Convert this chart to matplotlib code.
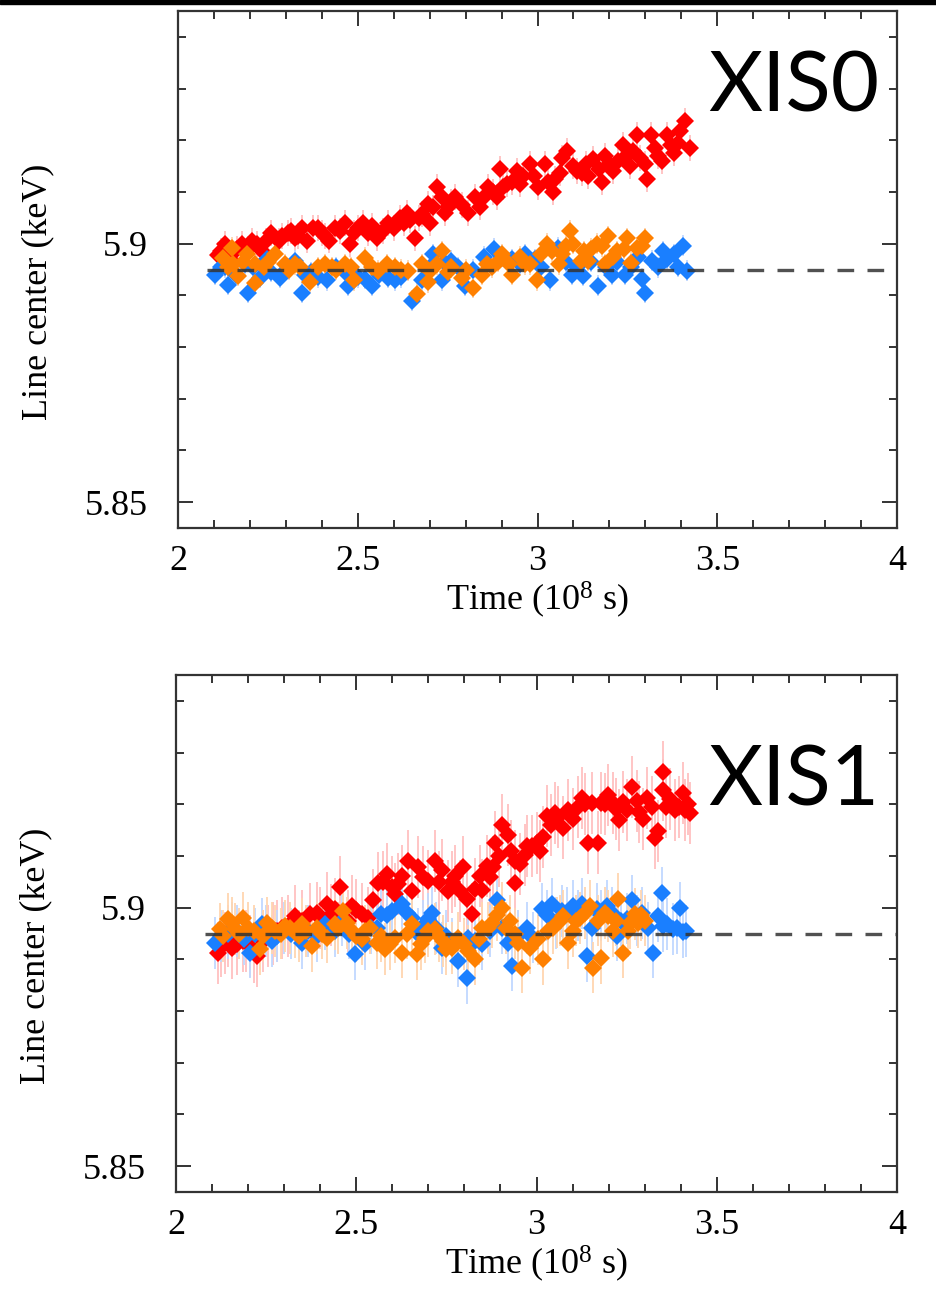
import matplotlib
matplotlib.use("Agg")
import matplotlib.pyplot as plt
from matplotlib.ticker import MultipleLocator, FormatStrFormatter
from matplotlib.patches import Rectangle

plt.rcParams['font.family'] = ['Liberation Serif', 'DejaVu Serif']
plt.rcParams['mathtext.fontset'] = 'custom'
plt.rcParams['mathtext.rm'] = 'Liberation Serif'
plt.rcParams['mathtext.default'] = 'regular'

# ---------------- XIS0 (top) ----------------
xis0_red_t = [2.11, 2.13, 2.145, 2.178, 2.195, 2.22, 2.234, 2.26, 2.28, 2.306, 2.325, 2.345,
              2.36, 2.376, 2.40, 2.42, 2.437, 2.465, 2.478, 2.49, 2.515, 2.528, 2.553, 2.585,
              2.60, 2.617, 2.636, 2.66, 2.68, 2.695, 2.70, 2.72, 2.734, 2.743, 2.75, 2.77,
              2.807, 2.826, 2.84, 2.862, 2.887, 2.896, 2.915, 2.943, 2.96, 2.98, 3.00, 3.02,
              3.043, 3.063, 3.068, 3.082, 3.10, 3.124, 3.14, 3.154, 3.18, 3.188, 3.21, 3.238,
              3.257, 3.277, 3.299, 3.304, 3.315, 3.327, 3.346, 3.36, 3.38, 3.396, 3.41, 3.424,
              2.12, 2.165, 2.205, 2.245, 2.29, 2.315, 2.335, 2.39, 2.41, 2.45, 2.50, 2.54,
              2.57, 2.63, 2.645, 2.67, 2.71, 2.76, 2.79, 2.85, 2.875, 2.905, 2.93, 2.95,
              2.99, 3.03, 3.05, 3.11, 3.135, 3.17, 3.20, 3.225, 3.245, 3.265, 3.285, 3.335,
              3.37, 3.39]
xis0_red_v = [5.8979, 5.9000, 5.8970, 5.9000, 5.8990, 5.9000, 5.8986, 5.9020, 5.9006, 5.9020, 5.9010, 5.9030,
              5.9006, 5.9030, 5.9020, 5.9006, 5.9030, 5.9040, 5.9000, 5.9020, 5.9040, 5.9020, 5.9010, 5.9040,
              5.9030, 5.9050, 5.9060, 5.9010, 5.9058, 5.9077, 5.9040, 5.9110, 5.9090, 5.9060, 5.9070, 5.9090,
              5.9060, 5.9090, 5.9070, 5.9110, 5.9090, 5.9145, 5.9116, 5.9140, 5.9130, 5.9154, 5.9110, 5.9154,
              5.9100, 5.9137, 5.9166, 5.9180, 5.9150, 5.9137, 5.9130, 5.9164, 5.9120, 5.9170, 5.9140, 5.9190,
              5.9150, 5.9210, 5.9154, 5.9125, 5.9210, 5.9185, 5.9160, 5.9210, 5.9176, 5.9218, 5.9237, 5.9185,
              5.8985, 5.8990, 5.9005, 5.9005, 5.9015, 5.9025, 5.9015, 5.9030, 5.9015, 5.9025, 5.9030, 5.9035,
              5.9025, 5.9040, 5.9045, 5.9050, 5.9070, 5.9080, 5.9075, 5.9090, 5.9100, 5.9110, 5.9120, 5.9115,
              5.9130, 5.9120, 5.9125, 5.9140, 5.9155, 5.9145, 5.9155, 5.9160, 5.9170, 5.9180, 5.9165, 5.9170,
              5.9190, 5.9195]
xis0_red_err = 0.0025

xis0_blue_t = [2.103, 2.13, 2.14, 2.186, 2.195, 2.228, 2.248, 2.284, 2.325, 2.345, 2.353, 2.414,
               2.473, 2.473, 2.52, 2.54, 2.584, 2.604, 2.65, 2.68, 2.71, 2.734, 2.76, 2.798,
               2.88, 2.93, 2.965, 2.993, 3.035, 3.057, 3.096, 3.127, 3.168, 3.207, 3.243, 3.29,
               3.30, 3.318, 3.335, 3.36, 3.38, 3.404, 3.415,
               2.12, 2.16, 2.21, 2.26, 2.30, 2.37, 2.39, 2.44, 2.50, 2.56, 2.62, 2.70,
               2.74, 2.78, 2.82, 2.85, 2.90, 2.95, 3.01, 3.08, 3.11, 3.15, 3.19, 3.22,
               3.26, 3.28, 3.35, 3.39]
xis0_blue_v = [5.8940, 5.8954, 5.8920, 5.8960, 5.8905, 5.8934, 5.8970, 5.8934, 5.8967, 5.8905, 5.8940, 5.8929,
               5.8940, 5.8919, 5.8932, 5.8919, 5.8934, 5.8929, 5.8890, 5.8929, 5.8980, 5.8929, 5.8967, 5.8919,
               5.8990, 5.8970, 5.8980, 5.8970, 5.8929, 5.8992, 5.8940, 5.8938, 5.8919, 5.8940, 5.8940, 5.8932,
               5.8905, 5.8967, 5.8954, 5.8970, 5.8980, 5.8996, 5.8948,
               5.8955, 5.8940, 5.8955, 5.8945, 5.8950, 5.8945, 5.8935, 5.8955, 5.8935, 5.8940, 5.8935, 5.8955,
               5.8965, 5.8955, 5.8950, 5.8975, 5.8975, 5.8960, 5.8955, 5.8965, 5.8955, 5.8965, 5.8955, 5.8965,
               5.8955, 5.8975, 5.8985, 5.8955]
xis0_blue_err = 0.002

xis0_orange_t = [2.125, 2.15, 2.153, 2.167, 2.192, 2.214, 2.214, 2.27, 2.298, 2.325, 2.367, 2.39,
                 2.428, 2.465, 2.49, 2.52, 2.556, 2.604, 2.64, 2.665, 2.695, 2.70, 2.734, 2.76,
                 2.79, 2.82, 2.846, 2.873, 2.90, 2.93, 2.965, 2.998, 3.026, 3.068, 3.09, 3.10,
                 3.12, 3.14, 3.165, 3.188, 3.196, 3.22, 3.25, 3.26, 3.277, 3.30,
                 2.14, 2.18, 2.24, 2.25, 2.31, 2.34, 2.41, 2.44, 2.48, 2.54, 2.58, 2.62,
                 2.68, 2.72, 2.75, 2.80, 2.86, 2.89, 2.92, 2.95, 2.98, 3.01, 3.04, 3.06,
                 3.08, 3.13, 3.15, 3.18, 3.21, 3.24, 3.29]
xis0_orange_v = [5.8973, 5.8992, 5.8960, 5.8938, 5.8980, 5.8923, 5.8960, 5.8980, 5.8960, 5.8960, 5.8925, 5.8954,
                 5.8954, 5.8960, 5.8929, 5.8973, 5.8948, 5.8954, 5.8948, 5.8903, 5.8925, 5.8948, 5.8986, 5.8954,
                 5.8934, 5.8915, 5.8940, 5.8954, 5.8980, 5.8940, 5.8960, 5.8929, 5.9000, 5.8980, 5.9025, 5.9000,
                 5.8967, 5.8967, 5.9000, 5.8960, 5.9015, 5.8986, 5.9010, 5.8963, 5.8992, 5.9010,
                 5.8955, 5.8965, 5.8955, 5.8965, 5.8950, 5.8955, 5.8960, 5.8950, 5.8955, 5.8955, 5.8960, 5.8950,
                 5.8960, 5.8960, 5.8945, 5.8950, 5.8960, 5.8965, 5.8960, 5.8975, 5.8960, 5.8980, 5.8985, 5.8960,
                 5.8995, 5.8985, 5.8990, 5.8995, 5.8975, 5.8990, 5.8995]
xis0_orange_err = 0.002

# ---------------- XIS1 (bottom) ----------------
xis1_red_t = [2.117, 2.136, 2.155, 2.186, 2.205, 2.225, 2.27, 2.294, 2.33, 2.372, 2.40, 2.42,
              2.44, 2.455, 2.477, 2.488, 2.516, 2.533, 2.546, 2.56, 2.585, 2.60, 2.607, 2.627,
              2.644, 2.655, 2.67, 2.70, 2.718, 2.738, 2.755, 2.774, 2.788, 2.796, 2.807, 2.82,
              2.83, 2.843, 2.862, 2.88, 2.885, 2.904, 2.92, 2.94, 2.94, 2.968, 2.988, 3.01,
              3.018, 3.03, 3.05, 3.074, 3.087, 3.10, 3.127, 3.143, 3.154, 3.17, 3.18, 3.198,
              3.212, 3.23, 3.25, 3.266, 3.278, 3.295, 3.307, 3.33, 3.338, 3.35, 3.35, 3.37,
              3.385, 3.406, 3.412, 3.426,
              2.125, 2.145, 2.17, 2.195, 2.215, 2.24, 2.255, 2.28, 2.31, 2.35, 2.39, 2.43,
              2.50, 2.575, 2.615, 2.685, 2.73, 2.765, 2.85, 2.87, 2.895, 2.93, 2.955, 2.975,
              3.00, 3.04, 3.06, 3.115, 3.135, 3.19, 3.22, 3.24, 3.285, 3.32, 3.36, 3.395, 3.42]
xis1_red_v = [5.8913, 5.8932, 5.8922, 5.8936, 5.8926, 5.8907, 5.8950, 5.8960, 5.8984, 5.8988, 5.8980, 5.9008,
              5.8998, 5.9039, 5.8975, 5.9004, 5.8988, 5.8980, 5.9014, 5.9047, 5.9066, 5.9039, 5.9027, 5.9062,
              5.9091, 5.9033, 5.9078, 5.9052, 5.9091, 5.9072, 5.9033, 5.9062, 5.9033, 5.9078, 5.9017, 5.8988,
              5.9037, 5.9062, 5.9081, 5.9078, 5.9126, 5.9159, 5.9140, 5.9047, 5.9091, 5.9101, 5.9120, 5.9110,
              5.9136, 5.9178, 5.9184, 5.9155, 5.9188, 5.9172, 5.9213, 5.9126, 5.9203, 5.9126, 5.9202, 5.9217,
              5.9202, 5.9169, 5.9188, 5.9233, 5.9207, 5.9172, 5.9213, 5.9134, 5.9149, 5.9262, 5.9227, 5.9211,
              5.9188, 5.9221, 5.9188, 5.9184,
              5.8925, 5.8945, 5.8930, 5.8935, 5.8915, 5.8935, 5.8945, 5.8955, 5.8965, 5.8975, 5.8990, 5.8985,
              5.8995, 5.9050, 5.9045, 5.9060, 5.9050, 5.9050, 5.9035, 5.9060, 5.9100, 5.9110, 5.9085, 5.9120,
              5.9125, 5.9160, 5.9175, 5.9195, 5.9200, 5.9200, 5.9190, 5.9205, 5.9185, 5.9195, 5.9195, 5.9195, 5.9200]
xis1_red_err = 0.006

xis1_blue_t = [2.108, 2.144, 2.17, 2.205, 2.238, 2.266, 2.30, 2.35, 2.366, 2.413, 2.44, 2.46,
               2.497, 2.524, 2.557, 2.57, 2.60, 2.627, 2.655, 2.67, 2.70, 2.71, 2.738, 2.766,
               2.783, 2.807, 2.81, 2.85, 2.87, 2.89, 2.92, 2.932, 2.974, 2.99, 3.015, 3.043,
               3.07, 3.10, 3.127, 3.14, 3.168, 3.195, 3.223, 3.25, 3.265, 3.293, 3.31, 3.323,
               3.336, 3.348, 3.362, 3.378, 3.398, 3.406,
               2.125, 2.155, 2.19, 2.22, 2.25, 2.28, 2.32, 2.39, 2.48, 2.54, 2.585, 2.64,
               2.685, 2.72, 2.75, 2.83, 2.905, 2.95, 3.03, 3.055, 3.085, 3.115, 3.155, 3.18,
               3.21, 3.235, 3.28, 3.35, 3.39, 3.415]
xis1_blue_v = [5.8932, 5.8950, 5.8955, 5.8913, 5.8969, 5.8936, 5.8961, 5.8932, 5.8955, 5.8969, 5.8955, 5.8975,
               5.8911, 5.8930, 5.8961, 5.8988, 5.8994, 5.9008, 5.8980, 5.8950, 5.8979, 5.8990, 5.8922, 5.8930,
               5.8897, 5.8864, 5.8942, 5.8930, 5.8955, 5.9014, 5.8932, 5.8888, 5.8961, 5.8942, 5.8998, 5.9008,
               5.8994, 5.9004, 5.9008, 5.8907, 5.8998, 5.9004, 5.8946, 5.8979, 5.9014, 5.8990, 5.8961, 5.8913,
               5.8984, 5.9029, 5.8969, 5.8959, 5.9000, 5.8952,
               5.8945, 5.8960, 5.8940, 5.8950, 5.8955, 5.8945, 5.8950, 5.8945, 5.8950, 5.8960, 5.8985, 5.8990,
               5.8965, 5.8960, 5.8945, 5.8935, 5.8960, 5.8945, 5.8985, 5.8970, 5.8990, 5.8985, 5.8960, 5.8985,
               5.8990, 5.8975, 5.8975, 5.8965, 5.8960, 5.8955]
xis1_blue_err = 0.005

xis1_orange_t = [2.122, 2.144, 2.163, 2.186, 2.20, 2.233, 2.252, 2.275, 2.302, 2.33, 2.35, 2.377,
                 2.39, 2.42, 2.44, 2.463, 2.488, 2.516, 2.538, 2.557, 2.58, 2.607, 2.627, 2.655,
                 2.668, 2.69, 2.718, 2.74, 2.766, 2.783, 2.81, 2.83, 2.85, 2.877, 2.904, 2.926,
                 2.95, 2.96, 2.982, 3.004, 3.018, 3.032, 3.057, 3.074, 3.087, 3.11, 3.135, 3.148,
                 3.157, 3.17, 3.18, 3.198, 3.212, 3.226, 3.24, 3.254, 3.273, 3.282, 3.30,
                 2.13, 2.155, 2.175, 2.215, 2.24, 2.265, 2.29, 2.315, 2.34, 2.36, 2.405, 2.45,
                 2.475, 2.50, 2.525, 2.57, 2.595, 2.64, 2.68, 2.70, 2.73, 2.75, 2.80, 2.84,
                 2.865, 2.89, 2.915, 2.94, 3.045, 3.065, 3.10, 3.12, 3.19, 3.22, 3.26, 3.29]
xis1_orange_v = [5.8959, 5.8979, 5.8959, 5.8980, 5.8961, 5.8920, 5.8971, 5.8955, 5.8965, 5.8952, 5.8969, 5.8926,
                 5.8961, 5.8942, 5.8969, 5.8994, 5.8955, 5.8940, 5.8961, 5.8932, 5.8920, 5.8942, 5.8913, 5.8969,
                 5.8911, 5.8942, 5.8959, 5.8936, 5.8922, 5.8942, 5.8917, 5.8901, 5.8961, 5.8971, 5.9000, 5.8975,
                 5.8932, 5.8884, 5.8922, 5.8940, 5.8901, 5.8955, 5.8971, 5.8984, 5.8932, 5.8975, 5.8990, 5.9004,
                 5.8884, 5.8975, 5.8903, 5.8984, 5.8955, 5.9017, 5.8913, 5.8955, 5.8988, 5.8971, 5.8975,
                 5.8945, 5.8970, 5.8950, 5.8955, 5.8945, 5.8960, 5.8950, 5.8960, 5.8945, 5.8955, 5.8950, 5.8960,
                 5.8970, 5.8945, 5.8955, 5.8945, 5.8930, 5.8950, 5.8930, 5.8955, 5.8945, 5.8920, 5.8930, 5.8940,
                 5.8960, 5.8985, 5.8960, 5.8950, 5.8960, 5.8975, 5.8955, 5.8980, 5.8990, 5.8975, 5.8970, 5.8985]
xis1_orange_err = 0.005

reference_center = 5.895
ref_start = 2.08
labels = ['XIS0', 'XIS1']

RED, BLUE, ORANGE = '#ff0000', '#1a7fff', '#ff8000'
RED_E, BLUE_E, ORANGE_E = '#ffc0c0', '#c0d8ff', '#ffd6b0'

W, H = 936, 1315
fig = plt.figure(figsize=(W / 100, H / 100), dpi=100)
fig.patches.append(Rectangle((0, 1 - 4 / H), 1, 4 / H, transform=fig.transFigure,
                             color='black', zorder=10))

panels = [
    dict(box=(178, 11, 897, 528), label=labels[0], txt=(708, 112),
         series=[(xis0_red_t, xis0_red_v, xis0_red_err, RED, RED_E),
                 (xis0_blue_t, xis0_blue_v, xis0_blue_err, BLUE, BLUE_E),
                 (xis0_orange_t, xis0_orange_v, xis0_orange_err, ORANGE, ORANGE_E)]),
    dict(box=(176, 675, 897, 1192), label=labels[1], txt=(708, 806),
         series=[(xis1_red_t, xis1_red_v, xis1_red_err, RED, RED_E),
                 (xis1_blue_t, xis1_blue_v, xis1_blue_err, BLUE, BLUE_E),
                 (xis1_orange_t, xis1_orange_v, xis1_orange_err, ORANGE, ORANGE_E)]),
]

for p in panels:
    l, t, r, b = p['box']
    ax = fig.add_axes([l / W, 1 - b / H, (r - l) / W, (b - t) / H])
    ax.set_xlim(2, 4)
    ax.set_ylim(5.845, 5.945)
    for (tt, vv, ee, c, ce) in p['series']:
        ax.errorbar(tt, vv, yerr=ee, fmt='none', ecolor=ce, elinewidth=1.3, capsize=0, zorder=1)
    for (tt, vv, ee, c, ce) in p['series']:
        ax.plot(tt, vv, linestyle='none', marker='D', markersize=9, color=c,
                markeredgewidth=0, zorder=3)
    ax.plot([ref_start, 4.0], [reference_center, reference_center], color='#333333',
            lw=2.4, dashes=(5.0, 4.0), alpha=0.85, zorder=4)

    ax.xaxis.set_major_locator(MultipleLocator(0.5))
    ax.xaxis.set_minor_locator(MultipleLocator(0.1))
    ax.yaxis.set_major_locator(MultipleLocator(0.05))
    ax.yaxis.set_minor_locator(MultipleLocator(0.01))
    ax.xaxis.set_major_formatter(FormatStrFormatter('%g'))
    ax.yaxis.set_major_formatter(FormatStrFormatter('%g'))
    ax.tick_params(which='both', direction='in', top=True, right=True, color='#333333',
                   width=1.4)
    ax.tick_params(which='major', length=11, labelsize=26)
    ax.tick_params(which='minor', length=6)
    ax.tick_params(axis='y', which='major', pad=22)
    ax.tick_params(axis='x', which='major', pad=12)
    for s in ax.spines.values():
        s.set_linewidth(1.6)
        s.set_color('#333333')

    ax.set_xlabel(r'Time (10$^{8}$ s)', fontsize=26)
    ax.xaxis.set_label_coords(0.5, -0.100)
    ax.set_ylabel('Line center (keV)', fontsize=26)
    ax.yaxis.set_label_coords(-0.172, 0.456)

    tx, ty = p['txt']
    fig.text(tx / W, 1 - ty / H, p['label'], fontsize=60, family=['Lato', 'DejaVu Sans'],
             ha='left', va='baseline', color='black')

fig.savefig('out.png', dpi=100)
